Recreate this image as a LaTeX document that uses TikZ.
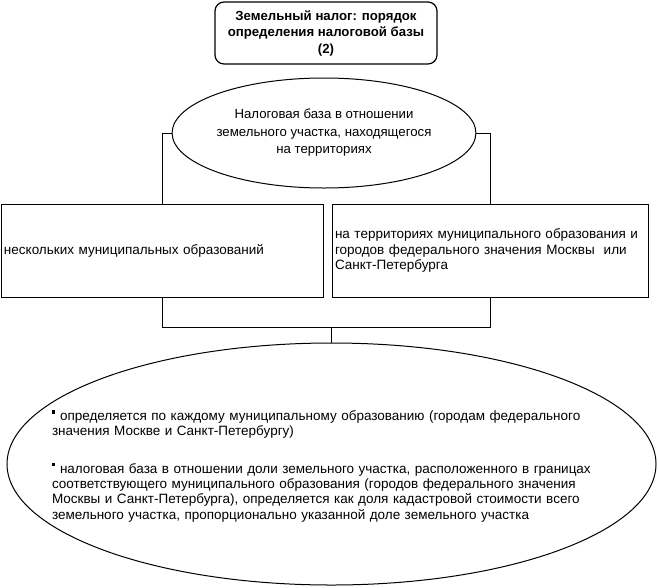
\documentclass[tikz,border=0pt]{standalone}
\usepackage{fontspec}
\setmainfont{Liberation Sans}
\usetikzlibrary{shapes.geometric, positioning}
\newcommand{\sqbullet}{\rule[7pt]{3.5pt}{3.5pt}}
\tikzset{
  titlebox/.style={rectangle, rounded corners=9pt, draw=black, line width=1.2pt,
                   minimum width=222pt, minimum height=62pt, align=center,
                   font=\fontsize{13.2}{16.5}\selectfont\bfseries},
  oval/.style={ellipse, draw=black, line width=1pt, inner sep=0pt},
  box/.style={rectangle, draw=black, line width=1pt, minimum height=93pt,
              align=left, inner sep=3pt, font=\fontsize{13.5}{15.2}\selectfont},
  conn/.style={line width=1pt},
}

\begin{document}
\begin{tikzpicture}[x=1pt, y=-1pt]
  \useasboundingbox (0,0) rectangle (658,587);

  % Title
  \node[titlebox] (title) at (326,33)
    {Земельный налог: порядок\\определения налоговой базы\\(2)};

  % Tax base
  \node[oval, minimum width=268pt, minimum height=110pt, align=center,
        font=\fontsize{13.2}{17.5}\selectfont] (base) at (324,133)
    {Налоговая база в отношении\\земельного участка, находящегося\\на территориях};

  % Two cases
  \node[box, minimum width=322pt, text width=316pt] (lbox) at (162,250.5)
    {нескольких муниципальных образований};
  \node[box, minimum width=316pt, text width=310pt] (rbox) at (490,250.5)
    {на территориях муниципального образования и\\
     городов федерального значения Москвы\ \ или\\
     Санкт-Петербурга};

  % Result
  \node[oval, minimum width=649pt, minimum height=242pt] (big) at (331.5,464) {};
  \node[text width=545pt, align=left, inner sep=0pt,
        font=\fontsize{13.5}{15.3}\selectfont] (bigtext) at (324.5,466)
    {\sqbullet\ определяется по каждому муниципальному образованию (городам федерального\\
     значения Москве и Санкт-Петербургу)\\[22pt]
     \sqbullet\ налоговая база в отношении доли земельного участка, расположенного в границах\\
     соответствующего муниципального образования (городов федерального значения\\
     Москвы и Санкт-Петербурга), определяется как доля кадастровой стоимости всего\\
     земельного участка, пропорционально указанной доле земельного участка};

  % Connectors
  \path (big.north) ++(0,-15) coordinate (join);
  \draw[conn] (base.west) -| (lbox.north);
  \draw[conn] (base.east) -| (rbox.north);
  \draw[conn] (lbox.south) |- (join);
  \draw[conn] (rbox.south) |- (join);
  \draw[conn] (join) -- (big.north);
\end{tikzpicture}
\end{document}
